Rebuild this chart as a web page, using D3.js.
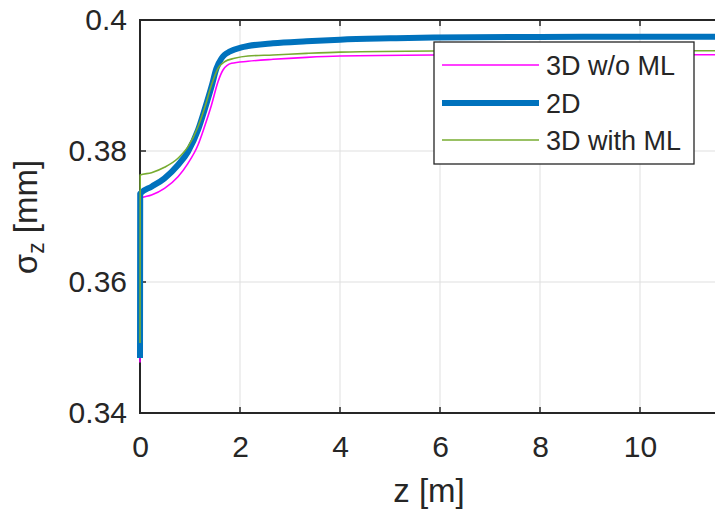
<!DOCTYPE html>
<html>
<head>
<meta charset="utf-8">
<script src="https://cdn.jsdelivr.net/npm/d3@7/dist/d3.min.js"></script>
<style>
  html, body { margin: 0; padding: 0; background: #fff; }
  svg { display: block; }
  text { font-family: "Liberation Sans", Arial, Helvetica, sans-serif; fill: #262626; }
</style>
</head>
<body>
<svg id="chart" width="715" height="510"></svg>
<script>
// Bunch length sigma_z along the beamline for three simulation models
const zNoML   = [0, 0.004, 0.23, 0.49, 0.76, 0.96, 1.16, 1.29, 1.43, 1.56, 1.66, 1.83, 2.16, 2.66, 3.33, 4, 5.87, 8, 10, 11.6];
const sigNoML = [0.3477, 0.37278, 0.37328, 0.3743, 0.37608, 0.37812, 0.38092, 0.3837, 0.38702, 0.39058, 0.39237, 0.39339, 0.3937, 0.3940, 0.3943, 0.3945, 0.39466, 0.3947, 0.3947, 0.3947];

const z2D     = [0, 0.004, 0.23, 0.49, 0.76, 0.96, 1.16, 1.29, 1.43, 1.53, 1.63, 1.69, 1.79, 2.03, 2.16, 2.66, 3.33, 4, 5, 5.87, 8, 10, 11.6];
const sig2D   = [0.3484, 0.3735, 0.37455, 0.37583, 0.37786, 0.3799, 0.3832, 0.38626, 0.38982, 0.39262, 0.39415, 0.39468, 0.39516, 0.39583, 0.39603, 0.39644, 0.39675, 0.39700, 0.39720, 0.39733, 0.39742, 0.39745, 0.39745];

const zML     = [0, 0.004, 0.23, 0.49, 0.76, 0.96, 1.16, 1.29, 1.43, 1.56, 1.69, 1.89, 2.16, 2.66, 3.33, 4, 5.87, 8, 10, 11.6];
const sigML   = [0.3507, 0.37634, 0.37669, 0.37751, 0.37889, 0.38066, 0.3837, 0.38652, 0.39008, 0.39262, 0.39363, 0.39415, 0.3945, 0.39466, 0.39491, 0.39510, 0.39527, 0.3953, 0.3953, 0.3953];

const seriesNames = ["3D w/o ML", "2D", "3D with ML"];
const xTicks = [0, 2, 4, 6, 8, 10];
const yTicks = [0.34, 0.36, 0.38, 0.4];
const yTickLabels = ["0.34", "0.36", "0.38", "0.4"];

const svg = d3.select("#chart");
const pL = 140, pR = 718, pT = 20, pB = 413;

const x = d3.scaleLinear().domain([0, 11.56]).range([pL, pR]);
const y = d3.scaleLinear().domain([0.34, 0.4]).range([pB, pT]);

const axisColor = "#262626";
const gridColor = "#dfdfdf";

// lines may overhang the left edge of the axes by half their width
svg.append("defs").append("clipPath").attr("id", "plotclip")
  .append("rect").attr("x", pL - 6).attr("y", pT).attr("width", pR - pL + 6).attr("height", pB - pT);

// grid
const grid = svg.append("g");
grid.selectAll("line.gx").data(xTicks.filter(t => t > 0)).join("line")
  .attr("x1", d => x(d)).attr("x2", d => x(d)).attr("y1", pT).attr("y2", pB)
  .attr("stroke", gridColor).attr("stroke-width", 1);
grid.selectAll("line.gy").data(yTicks.filter(t => t > 0.34 && t < 0.4)).join("line")
  .attr("x1", pL).attr("x2", pR).attr("y1", d => y(d)).attr("y2", d => y(d))
  .attr("stroke", gridColor).attr("stroke-width", 1);

// axes box (left, bottom, top) and inward ticks
svg.append("path")
  .attr("d", `M${pR},${pT}H${pL}V${pB}H${pR}`)
  .attr("fill", "none").attr("stroke", axisColor).attr("stroke-width", 2);
const tickLen = 6;
xTicks.forEach(t => {
  svg.append("line").attr("x1", x(t)).attr("x2", x(t)).attr("y1", pB).attr("y2", pB - tickLen)
    .attr("stroke", axisColor).attr("stroke-width", 1.5);
  svg.append("line").attr("x1", x(t)).attr("x2", x(t)).attr("y1", pT).attr("y2", pT + tickLen)
    .attr("stroke", axisColor).attr("stroke-width", 1.5);
});
yTicks.forEach(t => {
  svg.append("line").attr("x1", pL).attr("x2", pL + tickLen).attr("y1", y(t)).attr("y2", y(t))
    .attr("stroke", axisColor).attr("stroke-width", 1.5);
});

// data lines
const series = [
  { name: seriesNames[0], z: zNoML, s: sigNoML, color: "#ff00ff", width: 1.6 },
  { name: seriesNames[1], z: z2D,   s: sig2D,   color: "#0072bd", width: 6 },
  { name: seriesNames[2], z: zML,   s: sigML,   color: "#77ac30", width: 1.6 }
];
const line = d3.line().x(d => x(d[0])).y(d => y(d[1])).curve(d3.curveMonotoneX);
const plot = svg.append("g").attr("clip-path", "url(#plotclip)");
series.forEach(sr => {
  plot.append("path")
    .datum(sr.z.map((v, i) => [v, sr.s[i]]))
    .attr("d", line)
    .attr("fill", "none")
    .attr("stroke", sr.color)
    .attr("stroke-width", sr.width)
    .attr("stroke-linejoin", "round");
});

// tick labels
const xAxis = d3.axisBottom(x).tickValues(xTicks).tickSize(0).tickPadding(23).tickFormat(d3.format("d"));
const yAxis = d3.axisLeft(y).tickValues(yTicks).tickSize(0).tickPadding(13).tickFormat((d, i) => yTickLabels[i]);
const gx = svg.append("g").attr("transform", `translate(0,${pB})`).call(xAxis);
const gy = svg.append("g").attr("transform", `translate(${pL},0)`).call(yAxis);
[gx, gy].forEach(g => {
  g.select(".domain").remove();
  g.selectAll("text").attr("font-size", 30).attr("fill", axisColor)
    .style("font-family", "'Liberation Sans', Arial, sans-serif");
});

// axis labels
svg.append("text").attr("x", 429).attr("y", 502).attr("text-anchor", "middle")
  .attr("font-size", 33).text("z [m]");

const yl = svg.append("text").attr("transform", "translate(37,217) rotate(-90)")
  .attr("text-anchor", "middle").attr("font-size", 33);
yl.append("tspan").text("σ");
yl.append("tspan").attr("font-size", 23).attr("dy", 7).text("z");
yl.append("tspan").attr("dy", -7).text(" [mm]");

// legend
const lg = svg.append("g");
lg.append("rect").attr("x", 434).attr("y", 42).attr("width", 260).attr("height", 122)
  .attr("fill", "#fff").attr("stroke", axisColor).attr("stroke-width", 1.3);
const rowY = [65, 103, 140];
series.forEach((sr, i) => {
  lg.append("line").attr("x1", 442).attr("x2", 539).attr("y1", rowY[i]).attr("y2", rowY[i])
    .attr("stroke", sr.color).attr("stroke-width", sr.width);
  lg.append("text").attr("x", 546).attr("y", rowY[i]).attr("dy", "0.36em")
    .attr("font-size", 27).text(sr.name);
});
</script>
</body>
</html>
